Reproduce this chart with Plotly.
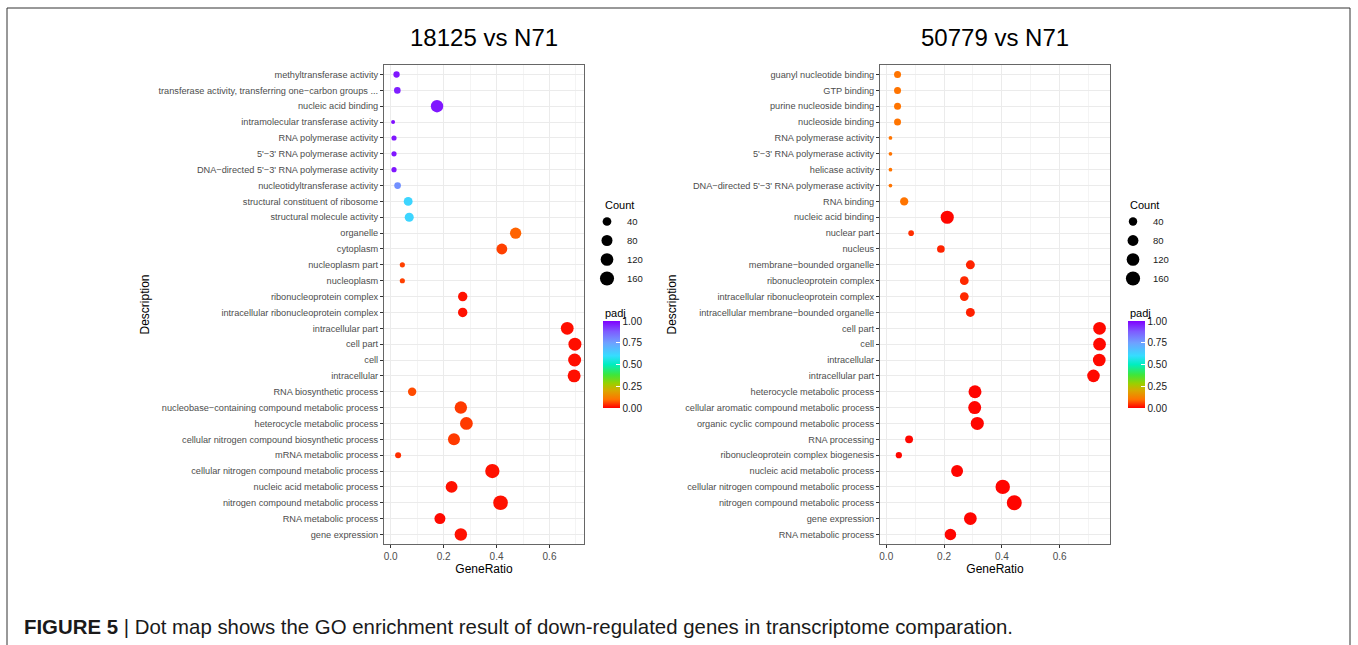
import numpy as np
import plotly.graph_objects as go

W, H = 1358, 645

# ---------------- data ----------------
titles = ["18125 vs N71", "50779 vs N71"]

desc_left = [
    "methyltransferase activity",
    "transferase activity, transferring one\u2212carbon groups ...",
    "nucleic acid binding",
    "intramolecular transferase activity",
    "RNA polymerase activity",
    "5'\u22123' RNA polymerase activity",
    "DNA\u2212directed 5'\u22123' RNA polymerase activity",
    "nucleotidyltransferase activity",
    "structural constituent of ribosome",
    "structural molecule activity",
    "organelle",
    "cytoplasm",
    "nucleoplasm part",
    "nucleoplasm",
    "ribonucleoprotein complex",
    "intracellular ribonucleoprotein complex",
    "intracellular part",
    "cell part",
    "cell",
    "intracellular",
    "RNA biosynthetic process",
    "nucleobase\u2212containing compound metabolic process",
    "heterocycle metabolic process",
    "cellular nitrogen compound biosynthetic process",
    "mRNA metabolic process",
    "cellular nitrogen compound metabolic process",
    "nucleic acid metabolic process",
    "nitrogen compound metabolic process",
    "RNA metabolic process",
    "gene expression",
]
ratio_left = [0.022, 0.025, 0.175, 0.009, 0.0125, 0.0125, 0.0125, 0.026, 0.066, 0.070,
              0.472, 0.420, 0.044, 0.044, 0.272, 0.272, 0.667, 0.696, 0.695, 0.693,
              0.081, 0.265, 0.286, 0.239, 0.028, 0.384, 0.230, 0.415, 0.186, 0.265]
count_left = [14, 16, 112, 6, 8, 8, 8, 17, 42, 45,
              87, 77, 8, 8, 50, 50, 123, 128, 128, 127,
              35, 114, 123, 103, 12, 166, 99, 179, 80, 114]
padj_left = [0.97, 0.96, 0.97, 0.98, 0.97, 0.97, 0.97, 0.78, 0.62, 0.62,
             0.085, 0.055, 0.055, 0.055, 0.015, 0.015, 0.012, 0.012, 0.012, 0.012,
             0.065, 0.05, 0.05, 0.05, 0.04, 0.015, 0.015, 0.015, 0.008, 0.015]

desc_right = [
    "guanyl nucleotide binding",
    "GTP binding",
    "purine nucleoside binding",
    "nucleoside binding",
    "RNA polymerase activity",
    "5'\u22123' RNA polymerase activity",
    "helicase activity",
    "DNA\u2212directed 5'\u22123' RNA polymerase activity",
    "RNA binding",
    "nucleic acid binding",
    "nuclear part",
    "nucleus",
    "membrane\u2212bounded organelle",
    "ribonucleoprotein complex",
    "intracellular ribonucleoprotein complex",
    "intracellular membrane\u2212bounded organelle",
    "cell part",
    "cell",
    "intracellular",
    "intracellular part",
    "heterocycle metabolic process",
    "cellular aromatic compound metabolic process",
    "organic cyclic compound metabolic process",
    "RNA processing",
    "ribonucleoprotein complex biogenesis",
    "nucleic acid metabolic process",
    "cellular nitrogen compound metabolic process",
    "nitrogen compound metabolic process",
    "gene expression",
    "RNA metabolic process",
]
ratio_right = [0.039, 0.039, 0.039, 0.039, 0.0145, 0.0145, 0.0145, 0.0145, 0.062, 0.211,
               0.086, 0.189, 0.291, 0.270, 0.270, 0.291, 0.738, 0.738, 0.737, 0.717,
               0.307, 0.306, 0.315, 0.079, 0.0435, 0.245, 0.403, 0.443, 0.291, 0.222]
count_right = [24, 24, 24, 24, 9, 9, 9, 9, 38, 131,
               14, 31, 47, 44, 44, 47, 120, 120, 120, 117,
               127, 127, 131, 33, 18, 102, 167, 184, 121, 92]
padj_right = [0.10, 0.10, 0.10, 0.10, 0.10, 0.10, 0.10, 0.10, 0.10, 0.005,
              0.04, 0.03, 0.03, 0.035, 0.035, 0.028, 0.008, 0.008, 0.008, 0.008,
              0.004, 0.004, 0.004, 0.006, 0.006, 0.004, 0.004, 0.004, 0.004, 0.004]

count_breaks = [40, 80, 120, 160]
padj_breaks = [0.0, 0.25, 0.5, 0.75, 1.0]
x_ticks = [0.0, 0.2, 0.4, 0.6]
caption_bold = "FIGURE 5"
caption_text = "Dot map shows the GO enrichment result of down-regulated genes in transcriptome comparation."

# ---------------- styling ----------------
FONT = "Liberation Sans, Arial, Helvetica, sans-serif"
rainbow = [
    [0.00, "#FF0000"], [0.10, "#FF7400"], [0.20, "#D9A800"], [0.28, "#9BCF00"],
    [0.38, "#3FE63A"], [0.50, "#00EEC0"], [0.60, "#35DDFF"], [0.75, "#6FA0FF"],
    [0.88, "#7E5CFF"], [1.00, "#8000FF"],
]


def size_scale(counts, dmin, dmax):
    cmin, cmax = min(counts), max(counts)

    def f(v):
        v = np.asarray(v, dtype=float)
        return dmin + (dmax - dmin) * np.sqrt(np.clip((v - cmin) / (cmax - cmin), 0, 1))
    return f


def px_x(p):
    return p / W


def px_y(p):
    return 1 - p / H


panels = [
    dict(desc=desc_left, ratio=ratio_left, count=count_left, padj=padj_left,
         box=(384, 584), dsize=(4.0, 14.7), legend="legend", cax="coloraxis",
         leg_x=587, ttl_x=602.7, cb_x=602.7),
    dict(desc=desc_right, ratio=ratio_right, count=count_right, padj=padj_right,
         box=(880, 1110), dsize=(3.7, 15.0), legend="legend2", cax="coloraxis2",
         leg_x=1113, ttl_x=1128.3, cb_x=1128.3),
]

fig = go.Figure()
layout = dict(
    width=W, height=H, margin=dict(l=0, r=0, t=0, b=0),
    paper_bgcolor="white", plot_bgcolor="white",
    font=dict(family=FONT, color="#000000"),
    showlegend=True,
)
annotations = []
Y_TOP, Y_BOT = 65, 544

for i, p in enumerate(panels):
    sfx = "" if i == 0 else str(i + 1)
    xa, ya = "x" + sfx, "y" + sfx
    sf = size_scale(p["count"], *p["dsize"])
    rmin, rmax = min(p["ratio"]), max(p["ratio"])
    pad = 0.05 * (rmax - rmin)
    xr = [rmin - pad, rmax + pad]
    n = len(p["desc"])

    fig.add_trace(go.Scatter(
        x=p["ratio"], y=p["desc"], mode="markers", xaxis=xa, yaxis=ya,
        showlegend=False,
        marker=dict(size=sf(p["count"]), sizemode="diameter", color=p["padj"],
                    coloraxis=p["cax"], opacity=1, line=dict(width=0)),
    ))
    for b in count_breaks:
        fig.add_trace(go.Scatter(
            x=[None], y=[None], mode="markers", xaxis=xa, yaxis=ya,
            name=str(b), legend=p["legend"], showlegend=True,
            marker=dict(size=float(sf([b])[0]), color="black", line=dict(width=0)),
        ))

    layout["xaxis" + sfx] = dict(
        domain=[px_x(p["box"][0]), px_x(p["box"][1])], anchor=ya,
        range=xr, tickvals=x_ticks, ticktext=[f"{t:.1f}" for t in x_ticks],
        showgrid=True, gridcolor="#EBEBEB", gridwidth=1, zeroline=False,
        minor=dict(dtick=0.1, tick0=0, showgrid=True, gridcolor="#F4F4F4", gridwidth=0.6),
        showline=True, mirror=True, linecolor="#666666", linewidth=1,
        ticks="outside", ticklen=3, tickcolor="#333333", tickwidth=1,
        tickfont=dict(size=10, color="#4D4D4D", family=FONT),
        title=dict(text="GeneRatio", font=dict(size=12, color="black", family=FONT), standoff=1),
        automargin=False, fixedrange=True,
    )
    layout["yaxis" + sfx] = dict(
        domain=[px_y(Y_BOT), px_y(Y_TOP)], anchor=xa,
        type="category", categoryorder="array", categoryarray=list(reversed(p["desc"])),
        range=[-0.6, n - 1 + 0.6],
        showgrid=True, gridcolor="#EBEBEB", gridwidth=1, zeroline=False,
        showline=True, mirror=True, linecolor="#666666", linewidth=1,
        ticks="outside", ticklen=3, tickcolor="#333333", tickwidth=1,
        tickfont=dict(size=9.2, color="#4D4D4D", family=FONT),
        title=dict(text="Description", font=dict(size=12, color="black", family=FONT), standoff=6),
        automargin=False, fixedrange=True,
    )
    layout[p["cax"]] = dict(
        cmin=0, cmax=1, colorscale=rainbow,
        colorbar=dict(
            x=px_x(p["cb_x"]), xanchor="left", xpad=0,
            y=px_y(321), yanchor="top", ypad=0,
            len=87, lenmode="pixels", thickness=17, thicknessmode="pixels",
            outlinewidth=0, tickvals=padj_breaks, ticktext=[f"{v:.2f}" for v in padj_breaks],
            ticks="inside", ticklen=4, tickcolor="white", tickwidth=1,
            tickfont=dict(size=10, color="#1A1A1A", family=FONT),
        ),
    )
    layout[p["legend"]] = dict(
        x=px_x(p["leg_x"]), xanchor="left", y=px_y(207), yanchor="top",
        bgcolor="rgba(0,0,0,0)", borderwidth=0, itemsizing="trace",
        font=dict(size=9.5, color="#1A1A1A", family=FONT), tracegroupgap=0,
        itemclick=False, itemdoubleclick=False,
    )
    cx = (p["box"][0] + p["box"][1]) / 2
    annotations.append(dict(
        text=titles[i], x=px_x(cx), y=px_y(37), xref="paper", yref="paper",
        xanchor="center", yanchor="middle", showarrow=False,
        font=dict(size=24, color="black", family=FONT),
    ))
    annotations.append(dict(
        text="Count", x=px_x(p["ttl_x"]), y=px_y(205), xref="paper", yref="paper",
        xanchor="left", yanchor="middle", showarrow=False,
        font=dict(size=11, color="black", family=FONT),
    ))
    annotations.append(dict(
        text="padj", x=px_x(p["cb_x"]), y=px_y(313), xref="paper", yref="paper",
        xanchor="left", yanchor="middle", showarrow=False,
        font=dict(size=11, color="black", family=FONT),
    ))

annotations.append(dict(
    text=f"<b>{caption_bold}</b> | {caption_text}", x=px_x(22), y=px_y(627),
    xref="paper", yref="paper", xanchor="left", yanchor="middle", showarrow=False,
    font=dict(size=20.4, color="#1A1A1A", family=FONT),
))
layout["annotations"] = annotations
layout["shapes"] = [dict(
    type="rect", xref="paper", yref="paper",
    x0=px_x(7), x1=px_x(1350), y0=-0.2, y1=px_y(8),
    line=dict(color="#333333", width=1), fillcolor="rgba(0,0,0,0)", layer="below",
)]
fig.update_layout(**layout)
fig.write_html("out.html")
